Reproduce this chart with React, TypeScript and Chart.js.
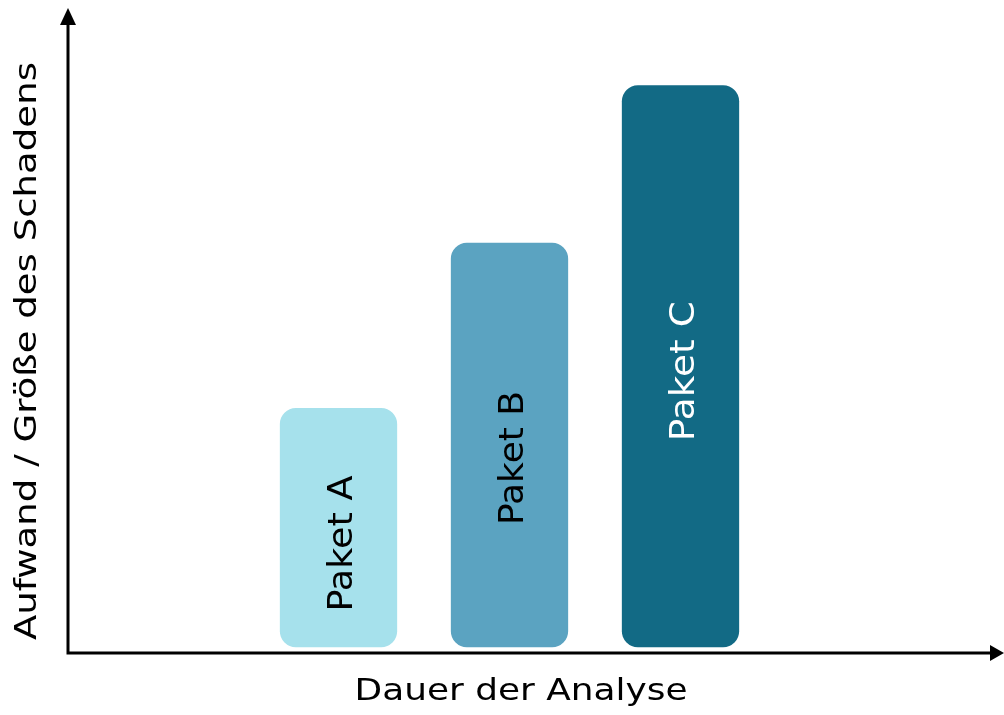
import React, { useEffect, useRef } from "react";
import { Chart, registerables } from "chart.js";

Chart.register(...registerables);

const categories = ["Paket A", "Paket B", "Paket C"];
const barTops = [38.1, 63.8, 88.3];
const barBase = 0.9;
const barColors = ["#A6E1EC", "#5BA3C1", "#126A85"];
const labelColors = ["#000000", "#000000", "#FFFFFF"];
const xTitle = "Dauer der Analyse";
const yTitle = "Aufwand / Größe des Schadens";

const FONT = "'DejaVu Sans', sans-serif";

function fitText(ctx: any, text: string, size: number, target: number) {
  ctx.font = `${size}px ${FONT}`;
  const w = ctx.measureText(text).width;
  return target / w;
}

export default function App() {
  const ref = useRef<HTMLCanvasElement>(null);
  useEffect(() => {
    document.body.style.margin = "0";
    const canvas = ref.current!;
    const drawText = (ctx: any, text: string, x: number, y: number, rot: number, size: number, target: number, color: string) => {
      ctx.save();
      ctx.translate(x, y);
      ctx.rotate(rot);
      const sx = fitText(ctx, text, size, target);
      ctx.scale(sx, 1);
      ctx.fillStyle = color;
      ctx.textAlign = "center";
      ctx.textBaseline = "middle";
      ctx.fillText(text, 0, 0);
      ctx.restore();
    };
    const decor = {
      id: "decor",
      afterDatasetsDraw(chart: any) {
        const ctx = chart.ctx;
        const area = chart.chartArea;
        const meta = chart.getDatasetMeta(0);
        ctx.save();
        const labelLen = [136, 134, 140];
        const labelOff = [16, 13, 5];
        meta.data.forEach((el: any, i: number) => {
          const cy = (el.y + el.base) / 2 + labelOff[i];
          drawText(ctx, categories[i], el.x + 5, cy, -Math.PI / 2, 34, labelLen[i], labelColors[i]);
        });
        const ox = 68;
        const oy = area.bottom;
        ctx.strokeStyle = "#000";
        ctx.fillStyle = "#000";
        ctx.lineWidth = 3;
        ctx.beginPath();
        ctx.moveTo(ox, oy + 1.5);
        ctx.lineTo(ox, 22);
        ctx.moveTo(ox - 1.5, oy);
        ctx.lineTo(992, oy);
        ctx.stroke();
        ctx.beginPath();
        ctx.moveTo(ox, 8);
        ctx.lineTo(ox - 8, 25);
        ctx.lineTo(ox + 8, 25);
        ctx.closePath();
        ctx.fill();
        ctx.beginPath();
        ctx.moveTo(1004, oy);
        ctx.lineTo(990, oy - 8);
        ctx.lineTo(990, oy + 8);
        ctx.closePath();
        ctx.fill();
        drawText(ctx, xTitle, 521, 692, 0, 30, 333, "#000");
        drawText(ctx, yTitle, 28, 351, -Math.PI / 2, 30, 578, "#000");
        ctx.restore();
      },
    };
    const chart = new Chart(canvas, {
      type: "bar",
      data: {
        labels: categories,
        datasets: [
          {
            data: barTops.map((v) => [barBase, v]),
            backgroundColor: barColors,
            borderRadius: 16,
            borderSkipped: false,
            barPercentage: 0.686,
            categoryPercentage: 1,
          },
        ],
      },
      options: {
        animation: false,
        responsive: false,
        layout: { padding: { left: 253, right: 238, top: 10, bottom: 62 } },
        plugins: { legend: { display: false }, tooltip: { enabled: false } },
        scales: {
          x: { display: false },
          y: { display: false, min: 0, max: 100 },
        },
      },
      plugins: [decor],
    });
    return () => chart.destroy();
  }, []);
  return (
    <div style={{ width: 1004, height: 715 }}>
      <canvas ref={ref} width={1004} height={715} />
    </div>
  );
}
